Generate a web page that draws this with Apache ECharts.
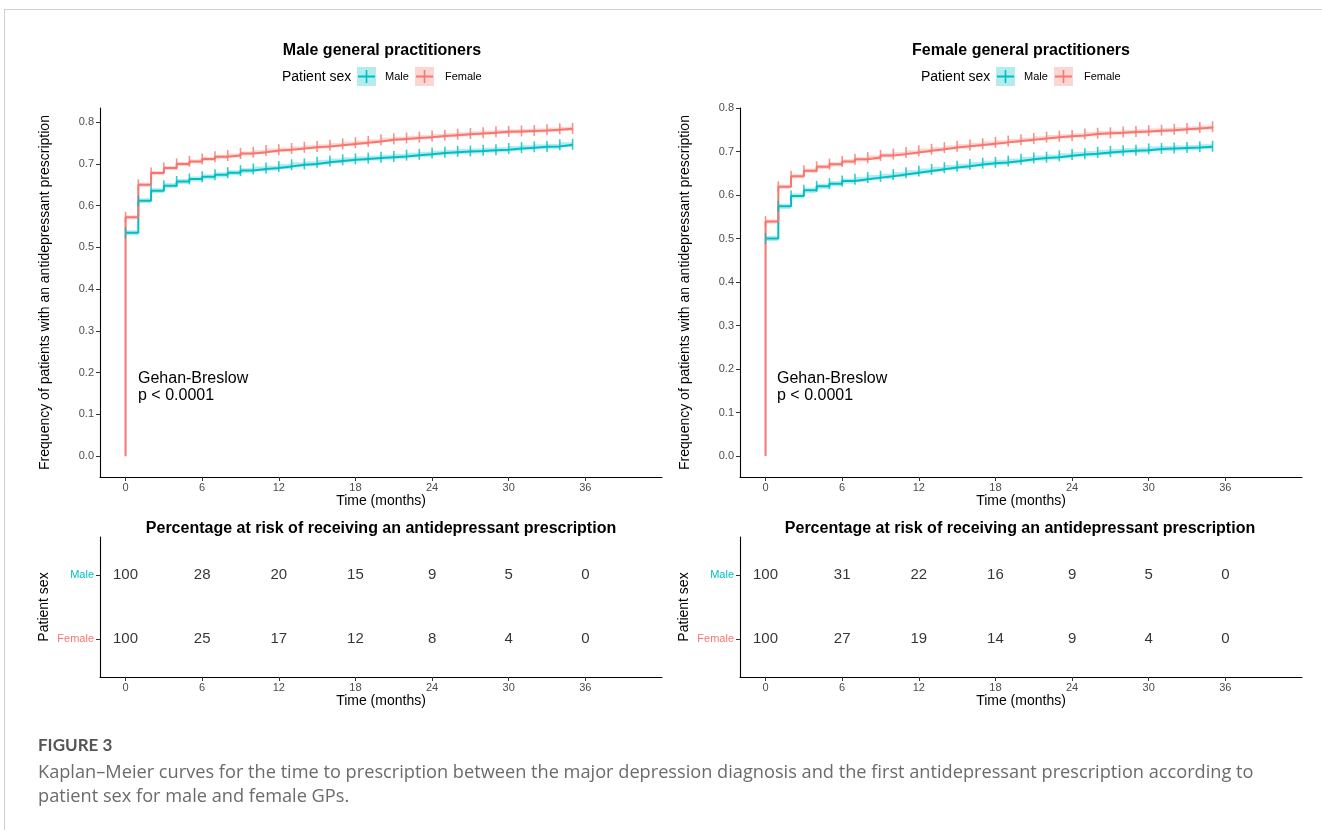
<!DOCTYPE html>
<html><head><meta charset="utf-8">
<script src="https://cdn.jsdelivr.net/npm/echarts@6/dist/echarts.min.js"></script>
<style>html,body{margin:0;padding:0;background:#fff}#c{width:1322px;height:830px}</style>
</head><body><div id="c"></div>
<script>
// ---------- DATA ----------
const months = [0,1,2,3,4,5,6,7,8,9,10,11,12,13,14,15,16,17,18,19,20,21,22,23,24,25,26,27,28,29,30,31,32,33,34,35];
// Male GPs panel
const maleGP_male   = [0.535,0.612,0.636,0.648,0.658,0.664,0.669,0.674,0.679,0.684,0.688,0.690,0.694,0.698,0.700,0.704,0.707,0.710,0.712,0.714,0.716,0.718,0.721,0.723,0.726,0.728,0.730,0.731,0.733,0.734,0.737,0.739,0.741,0.742,0.746,0.747];
const maleGP_female = [0.572,0.650,0.678,0.690,0.700,0.706,0.712,0.717,0.720,0.725,0.728,0.732,0.734,0.737,0.740,0.742,0.745,0.748,0.751,0.754,0.758,0.760,0.762,0.764,0.767,0.769,0.771,0.773,0.775,0.777,0.778,0.779,0.780,0.782,0.784,0.785];
// Female GPs panel
const femaleGP_male   = [0.500,0.574,0.598,0.611,0.620,0.626,0.632,0.636,0.640,0.643,0.647,0.651,0.655,0.659,0.663,0.666,0.670,0.673,0.675,0.678,0.682,0.685,0.687,0.690,0.693,0.695,0.698,0.700,0.702,0.703,0.706,0.707,0.708,0.709,0.711,0.712];
const femaleGP_female = [0.539,0.619,0.643,0.656,0.665,0.671,0.677,0.682,0.686,0.691,0.694,0.698,0.702,0.705,0.709,0.712,0.715,0.718,0.721,0.724,0.727,0.730,0.733,0.735,0.737,0.740,0.742,0.743,0.745,0.746,0.748,0.749,0.751,0.753,0.755,0.757];
// confidence band half-widths
const ciHalf_male = 0.006;
const ciHalf_female = 0.005;
// risk table
const riskTimes = [0,6,12,18,24,30,36];
const maleGP_risk_male   = [100,28,20,15,9,5,0];
const maleGP_risk_female = [100,25,17,12,8,4,0];
const femaleGP_risk_male   = [100,31,22,16,9,5,0];
const femaleGP_risk_female = [100,27,19,14,9,4,0];
const xTicks = [0,6,12,18,24,30,36];
const yTicks = [0,0.1,0.2,0.3,0.4,0.5,0.6,0.7,0.8];
const panelTitles = ['Male general practitioners','Female general practitioners'];

// ---------- STYLE ----------
const TEAL = '#00BFC4', RED = '#F8766D';
const TEAL_FILL = 'rgba(0,191,196,0.3)', RED_FILL = 'rgba(248,118,109,0.3)';
const FONT = 'Liberation Sans, Arial, sans-serif';
const CAPFONT = '"Open Sans", Lato, sans-serif';

const chart = echarts.init(document.getElementById('c'), null, {renderer:'canvas'});

const panels = [
  {left:100, yMin:-0.05, yMax:0.834, male:maleGP_male, female:maleGP_female, rm:maleGP_risk_male, rf:maleGP_risk_female},
  {left:740, yMin:-0.048, yMax:0.8, male:femaleGP_male, female:femaleGP_female, rm:femaleGP_risk_male, rf:femaleGP_risk_female}
];

const grids=[], xAxes=[], yAxes=[], series=[];

function xAxisDef(g){
  return {gridIndex:g, type:'value', min:-2, max:42,
    axisLine:{show:true, onZero:false, lineStyle:{color:'#000', width:1.1}},
    axisTick:{show:true, customValues:xTicks, length:4, lineStyle:{color:'#333'}},
    axisLabel:{customValues:xTicks, color:'#4d4d4d', fontSize:11, fontFamily:FONT, margin:5},
    splitLine:{show:false},
    name:'Time (months)', nameLocation:'middle', nameGap:17,
    nameTextStyle:{color:'#000', fontSize:14, fontFamily:FONT}};
}

function bandSeries(g, vals, half, fill){
  const data = months.map((t,i)=>[t, i<months.length-1?months[i+1]:t, vals[i]-half, vals[i]+half]);
  return {type:'custom', xAxisIndex:g, yAxisIndex:g, silent:true, z:1,
    renderItem:(params, api)=>{
      const p0 = api.coord([api.value(0), api.value(3)]);
      const p1 = api.coord([api.value(1), api.value(2)]);
      return {type:'rect', shape:{x:p0[0], y:p0[1], width:p1[0]-p0[0], height:p1[1]-p0[1]},
        style:{fill:fill}};
    },
    data:data};
}
// the female curve is drawn from 0 (its vertical start hides the male one in the reference)
function lineSeries(g, vals, color, fromZero){
  const pts = months.map((t,i)=>[t, vals[i]]);
  const data = fromZero ? [[0,0]].concat(pts) : pts;
  return {type:'line', xAxisIndex:g, yAxisIndex:g, step:'end', symbol:'none', silent:true, z:2,
    lineStyle:{color:color, width:2}, data:data};
}
function markSeries(g, vals, color){
  return {type:'scatter', xAxisIndex:g, yAxisIndex:g, symbol:'rect', symbolSize:[1.6,11], silent:true, z:3,
    itemStyle:{color:color}, data:months.map((t,i)=>[t, vals[i]])};
}
function riskSeries(g, row, vals){
  return {type:'scatter', xAxisIndex:g, yAxisIndex:g, symbolSize:1, silent:true,
    itemStyle:{color:'rgba(0,0,0,0)'},
    label:{show:true, position:'inside', color:'#000', fontSize:15, fontFamily:FONT,
      formatter:(p)=>String(p.value[2])},
    data:riskTimes.map((t,i)=>[t, row, vals[i]])};
}

panels.forEach((P, k)=>{
  const gTop = k, gRisk = k+2;
  grids[gTop]  = {left:P.left, top:108, width:562, height:369};
  grids[gRisk] = {left:P.left, top:537, width:562, height:140};
  xAxes[gTop] = xAxisDef(gTop);
  xAxes[gRisk] = xAxisDef(gRisk);
  yAxes[gTop] = {gridIndex:gTop, type:'value', min:P.yMin, max:P.yMax,
    axisLine:{show:true, onZero:false, lineStyle:{color:'#000', width:1.1}},
    axisTick:{show:true, customValues:yTicks, length:4, lineStyle:{color:'#333'}},
    axisLabel:{customValues:yTicks, color:'#4d4d4d', fontSize:11, fontFamily:FONT, margin:6,
      formatter:(v)=>Number(v).toFixed(1)},
    splitLine:{show:false},
    name:'Frequency of patients with an antidepressant prescription', nameLocation:'middle', nameGap:48,
    nameTextStyle:{color:'#000', fontSize:14, fontFamily:FONT}};
  yAxes[gRisk] = {gridIndex:gRisk, type:'value', min:-0.6, max:1.6,
    axisLine:{show:true, onZero:false, lineStyle:{color:'#000', width:1.1}},
    axisTick:{show:true, customValues:[0,1], length:4, lineStyle:{color:'#333'}},
    axisLabel:{customValues:[0,1], margin:6, fontFamily:FONT,
      formatter:(v)=>v>0.5?'{m|Male}':'{f|Female}',
      rich:{m:{color:TEAL, fontSize:11, fontFamily:FONT}, f:{color:RED, fontSize:11, fontFamily:FONT}}},
    splitLine:{show:false},
    name:'Patient sex', nameLocation:'middle', nameGap:49,
    nameTextStyle:{color:'#000', fontSize:14, fontFamily:FONT}};
  series.push(bandSeries(gTop, P.male, ciHalf_male, TEAL_FILL));
  series.push(bandSeries(gTop, P.female, ciHalf_female, RED_FILL));
  series.push(lineSeries(gTop, P.male, TEAL, false));
  series.push(lineSeries(gTop, P.female, RED, true));
  series.push(markSeries(gTop, P.male, TEAL));
  series.push(markSeries(gTop, P.female, RED));
  series.push(riskSeries(gRisk, 1, P.rm));
  series.push(riskSeries(gRisk, 0, P.rf));
});

// ---------- GRAPHIC (titles, legends, annotations, caption) ----------
const graphic = [
  {type:'line', shape:{x1:4, y1:9.5, x2:1322, y2:9.5}, style:{stroke:'#cfcfcf', lineWidth:1}},
  {type:'line', shape:{x1:4.5, y1:9, x2:4.5, y2:830}, style:{stroke:'#cfcfcf', lineWidth:1}}
];
[0,639].forEach((dx, k)=>{
  graphic.push({type:'text', x:382+dx, y:51, style:{text:panelTitles[k], font:'bold 16px '+FONT, fill:'#000', textAlign:'center', textVerticalAlign:'middle'}});
  graphic.push({type:'text', x:282+dx, y:77, style:{text:'Patient sex', font:'14px '+FONT, fill:'#000', textAlign:'left', textVerticalAlign:'middle'}});
  [[357, TEAL, TEAL_FILL, 'Male', 385],[415, RED, RED_FILL, 'Female', 445]].forEach(([bx, c, f, lab, tx])=>{
    graphic.push({type:'rect', shape:{x:bx+dx, y:67, width:19, height:19}, style:{fill:f}});
    graphic.push({type:'line', shape:{x1:bx+dx+1, y1:76.5, x2:bx+dx+18, y2:76.5}, style:{stroke:c, lineWidth:2}});
    graphic.push({type:'line', shape:{x1:bx+dx+9.5, y1:70, x2:bx+dx+9.5, y2:83}, style:{stroke:c, lineWidth:1.6}});
    graphic.push({type:'text', x:tx+dx, y:77, style:{text:lab, font:'11px '+FONT, fill:'#000', textAlign:'left', textVerticalAlign:'middle'}});
  });
  graphic.push({type:'text', x:138+dx, y:370, style:{text:'Gehan-Breslow\np < 0.0001', font:'16px '+FONT, fill:'#000', lineHeight:17, textAlign:'left', textVerticalAlign:'top'}});
  graphic.push({type:'text', x:381+dx, y:529, style:{text:'Percentage at risk of receiving an antidepressant prescription', font:'bold 16px '+FONT, fill:'#000', textAlign:'center', textVerticalAlign:'middle'}});
});
graphic.push({type:'text', x:38, y:746, style:{text:'FIGURE 3', font:'bold 17px Lato, sans-serif', fill:'#555', textAlign:'left', textVerticalAlign:'middle'}});
graphic.push({type:'text', x:38, y:773, style:{text:'Kaplan\u2013Meier curves for the time to prescription between the major depression diagnosis and the first antidepressant prescription according to', font:'18.2px '+CAPFONT, fill:'#6b6b6b', textAlign:'left', textVerticalAlign:'middle'}});
graphic.push({type:'text', x:38, y:797, style:{text:'patient sex for male and female GPs.', font:'18.2px '+CAPFONT, fill:'#6b6b6b', textAlign:'left', textVerticalAlign:'middle'}});

chart.setOption({
  backgroundColor:'#fff',
  animation:false,
  grid:grids, xAxis:xAxes, yAxis:yAxes, series:series, graphic:graphic
});
</script>
</body></html>
